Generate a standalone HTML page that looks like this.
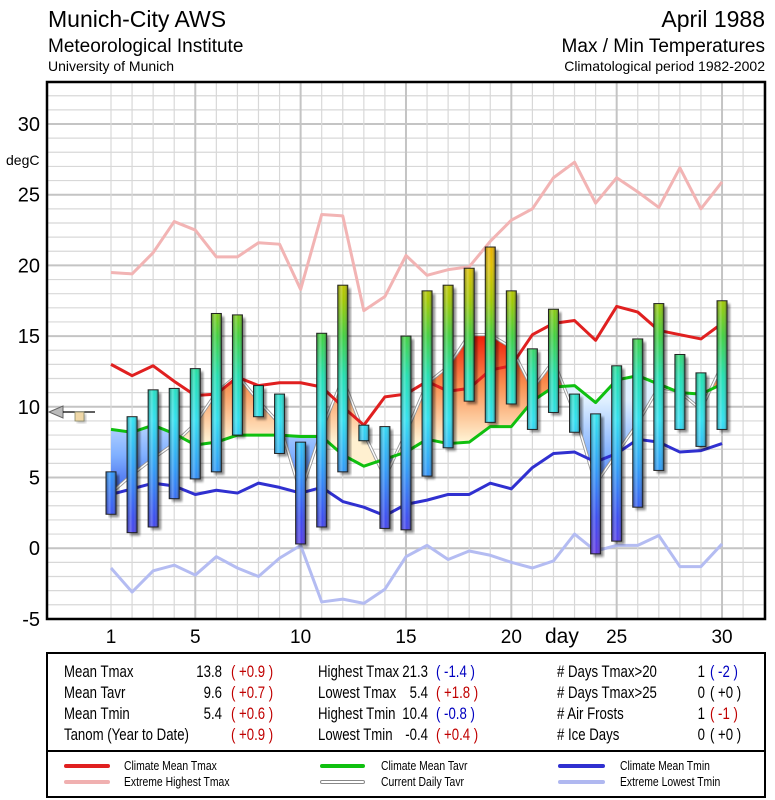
<!DOCTYPE html>
<html><head><meta charset="utf-8"><style>
html,body{margin:0;padding:0;background:#fff;}
svg{display:block;font-family:"Liberation Sans",sans-serif;}
</style></head><body>
<svg id="chart" width="775" height="800" viewBox="0 0 775 800" xmlns="http://www.w3.org/2000/svg">
<defs>
  <linearGradient id="barGrad" gradientUnits="userSpaceOnUse" x1="0" y1="566" x2="0" y2="124">
    <stop offset="0" stop-color="#6a2ee0"/>
    <stop offset="0.11" stop-color="#3a4cf0"/>
    <stop offset="0.22" stop-color="#2e9cf8"/>
    <stop offset="0.33" stop-color="#30e0f0"/>
    <stop offset="0.43" stop-color="#20e0b0"/>
    <stop offset="0.52" stop-color="#40d040"/>
    <stop offset="0.6" stop-color="#a0c800"/>
    <stop offset="0.68" stop-color="#e0c000"/>
    <stop offset="0.76" stop-color="#f0a000"/>
    <stop offset="1" stop-color="#f06000"/>
  </linearGradient>
  <linearGradient id="barShade" x1="0" y1="0" x2="1" y2="0">
    <stop offset="0" stop-color="#000" stop-opacity="0.35"/>
    <stop offset="0.35" stop-color="#fff" stop-opacity="0.25"/>
    <stop offset="0.6" stop-color="#fff" stop-opacity="0"/>
    <stop offset="1" stop-color="#000" stop-opacity="0.45"/>
  </linearGradient>
  <linearGradient id="warmGrad" gradientUnits="userSpaceOnUse" x1="0" y1="330" x2="0" y2="440">
    <stop offset="0" stop-color="#ee1100"/>
    <stop offset="0.5" stop-color="#fa9050"/>
    <stop offset="1" stop-color="#fff0d0"/>
  </linearGradient>
  <linearGradient id="coldGrad" gradientUnits="userSpaceOnUse" x1="0" y1="400" x2="0" y2="510">
    <stop offset="0" stop-color="#e0f0ff"/>
    <stop offset="0.5" stop-color="#80b0ff"/>
    <stop offset="1" stop-color="#2040e0"/>
  </linearGradient>
  <filter id="blur1"><feGaussianBlur stdDeviation="1.2"/></filter>
  <clipPath id="plotClip"><rect x="47" y="82" width="718" height="537"/></clipPath>
</defs>
<rect x="0" y="0" width="775" height="800" fill="#fff"/>
<g id="titles">
  <text x="48" y="27" font-size="23">Munich-City AWS</text>
  <text x="48" y="52" font-size="19">Meteorological Institute</text>
  <text x="48" y="71" font-size="14">University of Munich</text>
  <text x="765" y="27" font-size="23" text-anchor="end">April 1988</text>
  <text x="765" y="52" font-size="19" text-anchor="end">Max / Min Temperatures</text>
  <text x="765" y="71" font-size="14" text-anchor="end">Climatological period 1982-2002</text>
</g>
<rect x="47" y="82" width="718" height="537" fill="#fff"/>
<g id="grid"></g>
<g id="fills" clip-path="url(#plotClip)"></g>
<g id="lines" clip-path="url(#plotClip)"></g>
<g id="bars"></g>
<rect x="47" y="82" width="718" height="537" fill="none" stroke="#000" stroke-width="2.5"/>
<g id="axes"></g>
<g>
  <polygon points="49,412 63,406 63,418" fill="#bbb" stroke="#666" stroke-width="1"/>
  <line x1="63" y1="412" x2="95" y2="412" stroke="#000" stroke-width="1.2"/>
  <rect x="77" y="414" width="9" height="9" fill="#555" opacity="0.4" filter="url(#blur1)"/>
  <rect x="75" y="412" width="9" height="9" fill="#f0d8a8" stroke="#886" stroke-width="0.8"/>
</g>
<text x="6" y="165" font-size="14">degC</text>
<text x="545" y="643" font-size="21">day</text>

<g id="stats">
  <rect x="47" y="653" width="718" height="144" fill="#fff" stroke="#000" stroke-width="2"/>
  <line x1="47" y1="751" x2="765" y2="751" stroke="#000" stroke-width="2"/>
  <g font-size="16.5" class="cond">
    <text x="64" y="677">Mean Tmax</text><text x="222" y="677" text-anchor="end">13.8</text><text x="231" y="677" fill="#c00000">( +0.9 )</text>
    <text x="64" y="698">Mean Tavr</text><text x="222" y="698" text-anchor="end">9.6</text><text x="231" y="698" fill="#c00000">( +0.7 )</text>
    <text x="64" y="719">Mean Tmin</text><text x="222" y="719" text-anchor="end">5.4</text><text x="231" y="719" fill="#c00000">( +0.6 )</text>
    <text x="64" y="740">Tanom (Year to Date)</text><text x="231" y="740" fill="#c00000">( +0.9 )</text>
    <text x="318" y="677">Highest Tmax</text><text x="428" y="677" text-anchor="end">21.3</text><text x="436" y="677" fill="#0000c0">( -1.4 )</text>
    <text x="318" y="698">Lowest Tmax</text><text x="428" y="698" text-anchor="end">5.4</text><text x="436" y="698" fill="#c00000">( +1.8 )</text>
    <text x="318" y="719">Highest Tmin</text><text x="428" y="719" text-anchor="end">10.4</text><text x="436" y="719" fill="#0000c0">( -0.8 )</text>
    <text x="318" y="740">Lowest Tmin</text><text x="428" y="740" text-anchor="end">-0.4</text><text x="436" y="740" fill="#c00000">( +0.4 )</text>
    <text x="557" y="677"># Days Tmax&gt;20</text><text x="705" y="677" text-anchor="end">1</text><text x="710" y="677" fill="#0000c0">( -2 )</text>
    <text x="557" y="698"># Days Tmax&gt;25</text><text x="705" y="698" text-anchor="end">0</text><text x="710" y="698">( +0 )</text>
    <text x="557" y="719"># Air Frosts</text><text x="705" y="719" text-anchor="end">1</text><text x="710" y="719" fill="#c00000">( -1 )</text>
    <text x="557" y="740"># Ice Days</text><text x="705" y="740" text-anchor="end">0</text><text x="710" y="740">( +0 )</text>
  </g>
</g>
<g id="legend" font-size="13" class="cond">
  <g><line x1="66" y1="766" x2="108" y2="766" stroke="#e02020" stroke-width="4" stroke-linecap="round"/><text x="124" y="770">Climate Mean Tmax</text></g>
  <g><line x1="66" y1="782" x2="108" y2="782" stroke="#f0b0b0" stroke-width="4" stroke-linecap="round"/><text x="124" y="786">Extreme Highest Tmax</text></g>
  <g><line x1="322" y1="766" x2="363" y2="766" stroke="#10c010" stroke-width="4" stroke-linecap="round"/><text x="381" y="770">Climate Mean Tavr</text></g>
  <g><line x1="322" y1="782" x2="363" y2="782" stroke="#888" stroke-width="4" stroke-linecap="round"/><line x1="322" y1="782" x2="363" y2="782" stroke="#fff" stroke-width="2" stroke-linecap="round"/><text x="381" y="786">Current Daily Tavr</text></g>
  <g><line x1="560" y1="766" x2="603" y2="766" stroke="#3030d0" stroke-width="4" stroke-linecap="round"/><text x="620" y="770">Climate Mean Tmin</text></g>
  <g><line x1="560" y1="782" x2="603" y2="782" stroke="#b0b8f0" stroke-width="4" stroke-linecap="round"/><text x="620" y="786">Extreme Lowest Tmin</text></g>
</g>
</svg>
<script>
const days = [1,2,3,4,5,6,7,8,9,10,11,12,13,14,15,16,17,18,19,20,21,22,23,24,25,26,27,28,29,30];
const dailyTmax = [5.4,9.3,11.2,11.3,12.7,16.6,16.5,11.5,10.9,7.5,15.2,18.6,8.7,8.6,15.0,18.2,18.6,19.8,21.3,18.2,14.1,16.9,10.9,9.5,12.9,14.8,17.3,13.7,12.4,17.5];
const dailyTmin = [2.4,1.1,1.5,3.5,4.9,5.4,8.0,9.3,6.7,0.3,1.5,5.4,7.6,1.4,1.3,5.1,7.1,10.4,8.9,10.2,8.4,9.6,8.2,-0.4,0.5,2.9,5.5,8.4,7.2,8.4];
const climTmax = [13.0,12.2,12.9,11.8,10.8,10.9,12.1,11.5,11.7,11.7,11.4,10.0,8.7,10.7,10.9,11.8,11.1,11.3,12.6,12.9,15.1,15.9,16.1,14.7,17.1,16.7,15.4,15.1,14.8,15.9];
const climTavr = [8.4,8.2,8.7,8.1,7.3,7.5,8.0,8.0,8.0,7.9,7.9,6.6,5.8,6.3,6.8,7.7,7.4,7.5,8.6,8.6,10.4,11.4,11.5,10.3,11.9,12.2,11.6,11.0,10.9,11.6];
const climTmin = [3.8,4.2,4.6,4.4,3.8,4.1,3.9,4.6,4.3,3.9,4.3,3.3,2.9,2.3,3.1,3.4,3.8,3.8,4.6,4.2,5.7,6.7,6.8,6.1,6.7,7.7,7.5,6.8,6.9,7.4];
const extremeTmax = [19.5,19.4,20.9,23.1,22.5,20.6,20.6,21.6,21.5,18.3,23.6,23.5,16.8,17.8,20.7,19.3,19.7,19.9,21.7,23.2,24.0,26.2,27.3,24.4,26.2,25.2,24.1,26.9,24.0,25.9];
const extremeTmin = [-1.4,-3.1,-1.6,-1.2,-1.9,-0.6,-1.4,-2.0,-0.7,0.2,-3.8,-3.6,-3.9,-2.9,-0.6,0.2,-0.8,-0.2,-0.5,-1.0,-1.4,-0.9,1.0,-0.2,0.2,0.2,0.9,-1.3,-1.3,0.3];
const yTicks = [30,25,20,15,10,5,0,-5];
const xTicks = [1,5,10,15,20,25,30];

const NS = 'http://www.w3.org/2000/svg';
function xScale(d){ return 111 + (d-1)*21.07; }
function yScale(t){ return 124 + (30-t)*14.14; }
function mk(tag, attrs, parent){ const e=document.createElementNS(NS,tag); for(const k in attrs) e.setAttribute(k,attrs[k]); parent.appendChild(e); return e; }

document.querySelectorAll('.cond text').forEach(t=>{
  const x = parseFloat(t.getAttribute('x'));
  t.setAttribute('transform','translate('+x+',0) scale(0.8,1) translate('+(-x)+',0)');
});

const grid = document.getElementById('grid');
for(let t=-5;t<=33;t++){
  const l = mk('line',{x1:47,x2:765,y1:yScale(t),y2:yScale(t),stroke: t%5===0?'#c4c4c4':'#d8d8d8','stroke-width': t%5===0?2:1.2},grid);
  
  
}
for(let d=1;d<=32;d++){
  const l = mk('line',{x1:xScale(d),x2:xScale(d),y1:82,y2:619,stroke: d%5===0?'#c4c4c4':'#d8d8d8','stroke-width': d%5===0?2:1.2},grid);
  
  
}

const tavr = dailyTmax.map((v,i)=>(v+dailyTmin[i])/2);
function pts(arr){ return arr.map((v,i)=>xScale(days[i])+','+yScale(v)).join(' '); }

const fills = document.getElementById('fills');
const defs = document.querySelector('defs');
const climPts = pts(climTavr);
const lastX = xScale(days[days.length-1]), firstX = xScale(days[0]);
const cpA = mk('clipPath',{id:'aboveClim'},defs);
mk('polygon',{points: firstX+',82 '+climPts+' '+lastX+',82'},cpA);
const cpB = mk('clipPath',{id:'belowClim'},defs);
mk('polygon',{points: firstX+',619 '+climPts+' '+lastX+',619'},cpB);
const bandPts = pts(tavr)+' '+climTavr.map((v,i)=>xScale(days[i])+','+yScale(v)).reverse().join(' ');
const warm = mk('polygon',{points:bandPts,fill:'url(#warmGrad)','clip-path':'url(#aboveClim)'},fills);


const cold = mk('polygon',{points:bandPts,fill:'url(#coldGrad)','clip-path':'url(#belowClim)'},fills);



const lines = document.getElementById('lines');
function drawLine(arr,color,w,name){
  const p = mk('polyline',{points:pts(arr),fill:'none',stroke:color,'stroke-width':w,'stroke-linejoin':'round'},lines);
  
  
  return p;
}
drawLine(extremeTmax,'#f2b4b4',3,'extreme-highest-tmax-line');
drawLine(extremeTmin,'#b4bcf2',3,'extreme-lowest-tmin-line');
drawLine(tavr,'#999',3.2,'current-daily-tavr-outline');
drawLine(tavr,'#fff',1.4,'current-daily-tavr-line');
drawLine(climTmax,'#e02020',3,'climate-mean-tmax-line');
drawLine(climTavr,'#10c010',3,'climate-mean-tavr-line');
drawLine(climTmin,'#3030d0',3,'climate-mean-tmin-line');

const bars = document.getElementById('bars');
days.forEach((d,i)=>{
  const x = xScale(d)-5, yt = yScale(dailyTmax[i]), yb = yScale(dailyTmin[i]);
  const g = mk('g',{},bars);
  
  
  mk('rect',{x:x+3,y:yt+3,width:10,height:yb-yt,fill:'#000',opacity:0.45,filter:'url(#blur1)'},g);
  mk('rect',{x:x,y:yt,width:10,height:yb-yt,fill:'url(#barGrad)'},g);
  mk('rect',{x:x,y:yt,width:10,height:yb-yt,fill:'url(#barShade)',stroke:'#222','stroke-width':1},g);
});

const axes = document.getElementById('axes');
yTicks.forEach(t=>{
  const e = mk('text',{x:40,y:yScale(t)+7,'font-size':20,'text-anchor':'end'},axes);
  e.textContent = t;
  
  
});
xTicks.forEach(d=>{
  const e = mk('text',{x:xScale(d),y:643,'font-size':19,'text-anchor':'middle'},axes);
  e.textContent = d;
  
  
});
</script>
</body></html>
